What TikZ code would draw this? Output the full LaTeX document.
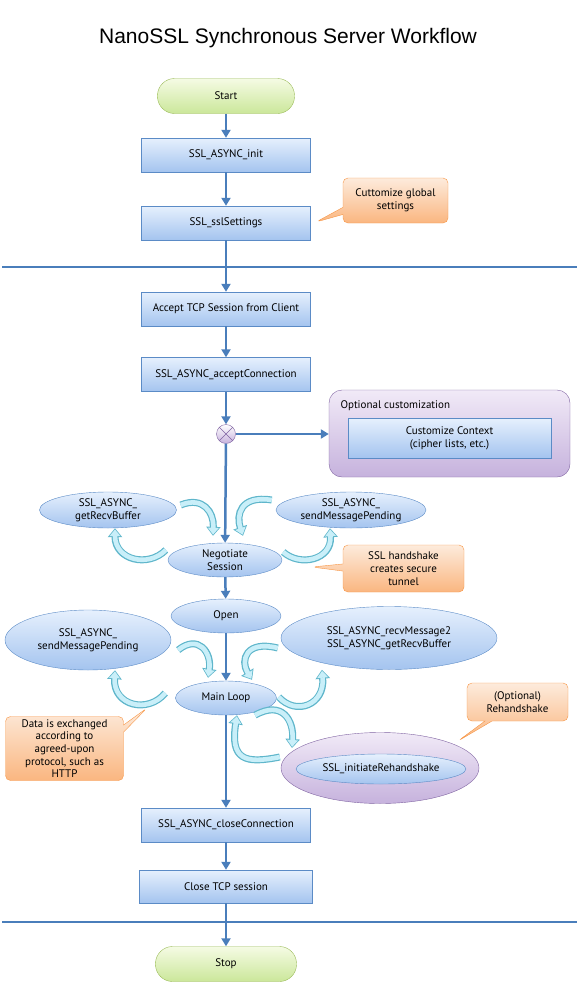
\documentclass[tikz,border=0pt]{standalone}
\usepackage{fontspec}
\setmainfont{PT Sans}
\newfontfamily\titlefont{Liberation Sans}
\usepackage{tikz}
\usetikzlibrary{shapes.geometric}
\usetikzlibrary{shapes.callouts}
\usetikzlibrary{arrows.meta}

\definecolor{flowblue}{HTML}{4A7EBB}
\definecolor{boxedge}{HTML}{5B8BC6}
\definecolor{boxtop}{HTML}{E6F0FD}
\definecolor{boxbot}{HTML}{A4C4EF}
\definecolor{termedge}{HTML}{9BBB59}
\definecolor{termtop}{HTML}{F5FBE4}
\definecolor{termbot}{HTML}{CBE79A}
\definecolor{noteedge}{HTML}{F79646}
\definecolor{notetop}{HTML}{FDEBDC}
\definecolor{notebot}{HTML}{FAB680}
\definecolor{grpedge}{HTML}{8064A2}
\definecolor{grptop}{HTML}{F1EAF7}
\definecolor{grpbot}{HTML}{C6B2DD}
\definecolor{cycleedge}{HTML}{5FB6CB}
\definecolor{cyclefill}{HTML}{C9EFF9}

\tikzset{
  every node/.style={font=\fontsize{11}{13}\selectfont, text=black},
  proc/.style={rectangle, draw=boxedge, top color=boxtop, bottom color=boxbot, minimum width=169pt, minimum height=34pt, inner sep=1pt, align=center},
  term/.style={rectangle, rounded corners=17pt, draw=termedge, top color=termtop, bottom color=termbot, minimum width=137pt, minimum height=35pt},
  phase/.style={ellipse, draw=boxedge, top color=boxtop, bottom color=boxbot, inner sep=0pt, align=center},
  note/.style={rectangle callout, rounded corners=5pt, draw=noteedge, top color=notetop, bottom color=notebot, inner sep=1pt, align=center},
  grp/.style={rectangle, rounded corners=13pt, draw=grpedge, top color=grptop, bottom color=grpbot},
  grpell/.style={ellipse, draw=grpedge, top color=grptop, bottom color=grpbot},
  merge/.style={circle, draw=grpedge, top color=white, bottom color=grpbot, minimum size=19pt, inner sep=0pt},
  flowline/.style={draw=flowblue, line width=2.5pt, -{Triangle[width=9pt,length=8pt]}},
  divider/.style={draw=flowblue, line width=2.5pt},
  cycler/.style={draw=cycleedge, line width=7pt, -{Triangle[width=14pt,length=9pt]},
    postaction={draw=cyclefill, line width=4.6pt, -{Triangle[width=10.5pt,length=6.8pt]}, shorten >=1.2pt}}
}

\begin{document}
\begin{tikzpicture}[x=1pt,y=-1pt]
\useasboundingbox (0,0) rectangle (578,985);

\node[font=\titlefont\fontsize{21}{25}\selectfont, anchor=base] (title) at (288,43) {NanoSSL Synchronous Server Workflow};

\node[term] (start) at (226,96) {Start};
\node[proc] (init) at (226,155) {SSL\_ASYNC\_init};
\node[proc] (settings) at (226,223) {SSL\_sslSettings};
\node[note, minimum width=105pt, minimum height=45pt, callout absolute pointer={(316,222)}] (noteglobal) at (395.5,200.5) {Cuttomize global\\settings};

\draw[divider] (2,267) -- (577,267);

\node[proc] (accept) at (226,309) {Accept TCP Session from Client};
\node[proc] (acceptconn) at (226,374.5) {SSL\_ASYNC\_acceptConnection};
\node[grp, minimum width=241pt, minimum height=87pt] (optgrp) at (449.5,433.5) {};
\node[anchor=west] (optlabel) at (337,406) {Optional customization};
\node[proc, minimum width=203pt, minimum height=40pt] (ctx) at (449.5,438) {Customize Context\\(cipher lists, etc.)};
\node[merge] (xmerge) at (226,434) {};
\draw[grpedge] (xmerge.north west) -- (xmerge.south east) (xmerge.north east) -- (xmerge.south west);

\node[phase, minimum width=137pt, minimum height=36pt] (getbuf) at (108,510) {SSL\_ASYNC\_\\getRecvBuffer};
\node[phase, minimum width=150pt, minimum height=36pt] (sendpend) at (351,510) {SSL\_ASYNC\_\\sendMessagePending};
\node[phase, minimum width=114pt, minimum height=34pt] (negotiate) at (225,560) {Negotiate\\Session};
\node[note, minimum width=121pt, minimum height=47pt, callout absolute pointer={(312,567)}] (notehs) at (403.5,568.5) {SSL handshake\\creates secure\\tunnel};

\node[phase, minimum width=110pt, minimum height=34pt] (open) at (226,616) {Open};
\node[phase, minimum width=166pt, minimum height=60pt] (sendpend2) at (88,640) {SSL\_ASYNC\_\\sendMessagePending};
\node[phase, minimum width=216pt, minimum height=63pt] (recvmsg) at (389,638) {SSL\_ASYNC\_recvMessage2\\SSL\_ASYNC\_getRecvBuffer};
\node[phase, minimum width=101pt, minimum height=34pt] (mainloop) at (226,698) {Main Loop};
\node[note, minimum width=118pt, minimum height=64pt, callout absolute pointer={(147,708)}, inner sep=0pt, font=\fontsize{11}{12.6}\selectfont] (notedata) at (64.5,748.5) {Data is exchanged\\according to\\agreed-upon\\protocol, such as\\HTTP};
\node[note, minimum width=101pt, minimum height=38pt, callout absolute pointer={(458,741)}] (noterehs) at (517.5,702) {(Optional)\\Rehandshake};
\node[grpell, minimum width=198pt, minimum height=71pt] (rehsgrp) at (380,768) {};
\node[phase, minimum width=170pt, minimum height=30pt] (rehs) at (381,769) {SSL\_initiateRehandshake};

\node[proc] (closeconn) at (226,825) {SSL\_ASYNC\_closeConnection};
\node[proc, minimum width=173pt, minimum height=33pt] (closetcp) at (226,886.5) {Close TCP session};
\draw[divider] (2,922) -- (577,922);
\node[term, minimum width=141pt] (stop) at (226,964) {Stop};

\draw[flowline] (start) -- (init);
\draw[flowline] (init) -- (settings);
\draw[flowline] (settings) -- (accept);
\draw[flowline] (accept) -- (acceptconn);
\draw[flowline] (acceptconn) -- (xmerge);
\draw[flowline] (xmerge) -- (xmerge -| optgrp.west);
\draw[flowline] (xmerge) -- (negotiate);
\draw[flowline] (negotiate) -- (open);
\draw[flowline] (open) -- (mainloop);
\draw[flowline] (mainloop) -- (closeconn);
\draw[flowline] (closeconn) -- (closetcp);
\draw[flowline] (closetcp) -- (stop);

\draw[cycler] ([shift={(4pt,5pt)}]getbuf.east) .. controls (203,496) and (214,512) .. ([shift={(-12pt,7pt)}]negotiate.north);
\draw[cycler] ([shift={(-2pt,10pt)}]negotiate.west) .. controls (148,568) and (115,560) .. ([xshift=7pt]getbuf.south);
\draw[cycler] ([shift={(-4pt,10pt)}]sendpend.west) .. controls (240,495) and (236,515) .. ([shift={(18pt,7pt)}]negotiate.north);
\draw[cycler] ([shift={(1pt,8pt)}]negotiate.east) .. controls (300,567) and (332,560) .. ([xshift=-21pt]sendpend.south);

\draw[cycler] ([shift={(7pt,-10pt)}]sendpend2.east) .. controls (198,634) and (212,652) .. ([shift={(-18pt,3pt)}]mainloop.north);
\draw[cycler] ([shift={(-10pt,5pt)}]mainloop.west) .. controls (148,714) and (113,706) .. ([xshift=27pt]sendpend2.south);
\draw[cycler] ([shift={(-3pt,-10pt)}]recvmsg.west) .. controls (246,640) and (240,660) .. ([shift={(26pt,1pt)}]mainloop.north);
\draw[cycler] ([shift={(2pt,1pt)}]mainloop.east) .. controls (296,716) and (325,705) .. ([xshift=-67pt]recvmsg.south);
\draw[cycler] ([xshift=29pt]mainloop.south) .. controls (282,700) and (294,720) .. ([shift={(-88pt,20pt)}]rehsgrp.center);
\draw[cycler] ([shift={(-1pt,11pt)}]rehsgrp.west) .. controls (245,764) and (230,760) .. ([xshift=11pt]mainloop.south);
\end{tikzpicture}
\end{document}
